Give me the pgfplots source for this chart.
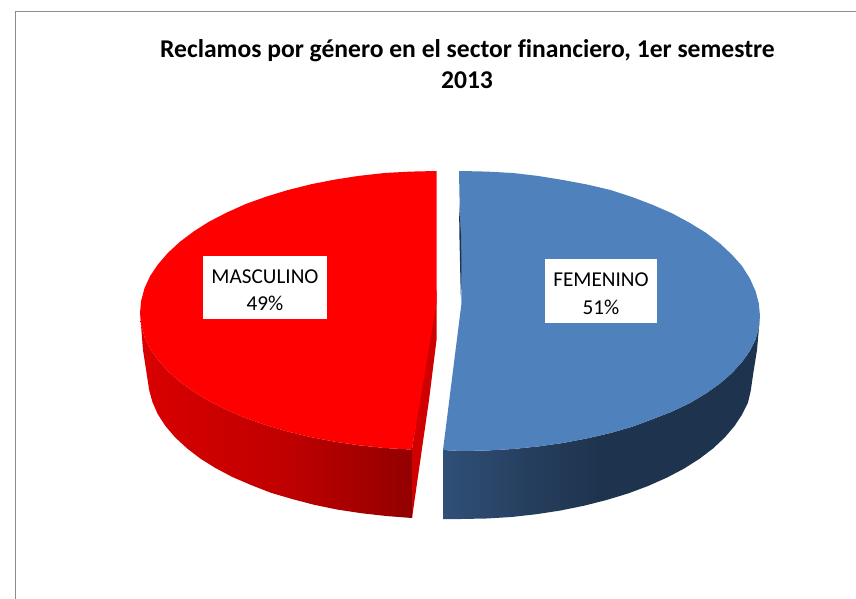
\documentclass[border=0pt]{standalone}
\usepackage{pgfplots}
\pgfplotsset{compat=1.18}
\usepackage{fontspec}
\setmainfont{Carlito}[Ligatures=NoCommon]
\definecolor{frameg}{HTML}{8C8C8C}
\definecolor{bluetop}{HTML}{4F81BD}
\definecolor{bluedark}{HTML}{1E334D}
\definecolor{bsa}{HTML}{305078}
\definecolor{bsb}{HTML}{263F5F}
\definecolor{redtop}{HTML}{FF0000}
\definecolor{redband}{HTML}{D00000}
\definecolor{rsa}{HTML}{DA0000}
\definecolor{rsb}{HTML}{BF0000}
\definecolor{rsc}{HTML}{A80000}
\definecolor{rsd}{HTML}{930000}
\pgfdeclarehorizontalshading{blueside}{100bp}{color(0bp)=(bsa); color(25bp)=(bsa); color(38bp)=(bsb); color(50bp)=(bluedark); color(100bp)=(bluedark)}
\pgfdeclarehorizontalshading{redside}{100bp}{color(0bp)=(rsa); color(25bp)=(rsa); color(52bp)=(rsb); color(64bp)=(rsc); color(75bp)=(rsd); color(100bp)=(rsd)}
\begin{document}
\begin{tikzpicture}
\begin{axis}[
  scale only axis, width=856pt, height=599pt,
  xmin=0, xmax=856, ymin=0, ymax=599, y dir=reverse,
  hide axis, clip=true, enlargelimits=false]
% frame
\addplot[frameg, line width=1.9pt, forget plot] coordinates {(15.5,599) (15.5,11.5) (856,11.5)};
% red side
\addplot[draw=none, shade, shading=redside, forget plot] coordinates {
(140,313) (143,350) (149.2,390.2) (152.4,402) (157.8,414.2) (165.4,426) (175,437.2) (186.6,448) (200.1,458.4) (215.4,468) (232.4,477) (251,485) (270.7,492.7) (292,499) (314.2,504.8) (337.5,509.6) (361.4,513.2) (386,516) (412,518)
(412,449) (410.2,449.5) (384.6,448) (359.3,445.3) (334.8,441.7) (310.8,437.1) (288,431.6) (266.1,425.2) (245.7,418) (226.7,409.9) (209,401) (193.6,391.6) (179.7,381.5) (167.8,371) (158,359.9) (150,348.5) (144.5,336.8) (141.2,324.9)} -- cycle;
% red inner band
\addplot[draw=none, fill=redband, forget plot] coordinates {(436.5,290) (436.5,340) (429,400) (412,518) (412,449)} -- cycle;
% red top
\addplot[draw=none, fill=redtop, forget plot] coordinates {
(436.5,303) (436.5,171) (410.2,171.6) (384.6,173) (359.3,175.8) (334.8,179.6) (310.8,184.3) (288,190) (266.1,196.7) (245.7,204) (226.7,212.6) (209,221.7) (193.6,231.5) (179.7,242) (167.8,253) (158,264.4) (150,276.2) (144.5,288.3) (141.2,300.6) (140,313)
(141.2,324.9) (144.5,336.8) (150,348.5) (158,359.9) (167.8,371) (179.7,381.5) (193.6,391.6) (209,401) (226.7,409.9) (245.7,418) (266.1,425.2) (288,431.6) (310.8,437.1) (334.8,441.7) (359.3,445.3) (384.6,448) (410.2,449.5) (412,449)} -- cycle;
% blue side
\addplot[draw=none, shade, shading=blueside, forget plot] coordinates {
(760,316) (757,350) (753,375) (750.8,390.3) (748,402.5) (742.1,414.5) (734.5,426) (724.6,437.6) (713,448.5) (699.3,458.9) (684,468.6) (666.7,477.7) (648,486) (628,493.5) (606.5,500) (584.1,505.7) (560.5,510.5) (536.4,514.2) (511.5,517) (486.3,518.5) (461,519) (443,519)
(443,450) (461,451) (487,450.5) (513,449) (538.4,446.4) (563,443) (587.5,438.3) (610.5,433) (632.6,426.6) (653,419) (672.4,411.4) (690,403) (705.9,393.5) (720,383.5) (731.9,373.1) (742,362) (749.8,351) (755.5,339.5) (758.8,327.7)} -- cycle;
% blue top
\addplot[draw=none, fill=bluetop, forget plot] coordinates {
(461.5,303) (459,171) (461,171) (487,171.6) (513,173) (538.4,176) (563,180) (587.5,184.6) (610.5,190) (632.6,197.2) (653,205) (672.4,213.5) (690,223) (705.9,232.8) (720,243.5) (731.9,254.7) (742,266) (749.8,278.4) (755.5,291) (758.8,303.4) (760,316)
(758.8,327.7) (755.5,339.5) (749.8,351) (742,362) (731.9,373.1) (720,383.5) (705.9,393.5) (690,403) (672.4,411.4) (653,419) (632.6,426.6) (610.5,433) (587.5,438.3) (563,443) (538.4,446.4) (513,449) (487,450.5) (461,451) (443,450)} -- cycle;
% dark sliver on blue cut edge
\addplot[draw=none, fill=bluedark, forget plot] coordinates {(459,205) (459.5,240) (460.8,297) (461.5,265) (461,235)} -- cycle;
% label boxes
\addplot[draw=none, fill=white, forget plot] coordinates {(203,256) (327,256) (327,319) (203,319)} -- cycle;
\addplot[draw=none, fill=white, forget plot] coordinates {(545,259) (657,259) (657,323) (545,323)} -- cycle;
% text
\node[font=\fontsize{25.6}{30}\selectfont\bfseries, anchor=center] at (axis cs:467.5,50.5) {Reclamos por género en el sector financiero, 1er semestre};
\node[font=\fontsize{25.6}{30}\selectfont\bfseries, anchor=center] at (axis cs:467,80.5) {2013};
\node[font=\fontsize{21.2}{24}\selectfont, anchor=center] at (axis cs:265,277) {MASCULINO};
\node[font=\fontsize{21.2}{24}\selectfont, anchor=center] at (axis cs:265,303) {49\%};
\node[font=\fontsize{21.2}{24}\selectfont, anchor=center] at (axis cs:601,280) {FEMENINO};
\node[font=\fontsize{21.2}{24}\selectfont, anchor=center] at (axis cs:601,307) {51\%};
\end{axis}
\path (0,0) rectangle (856pt,599pt);
\end{tikzpicture}
\end{document}
